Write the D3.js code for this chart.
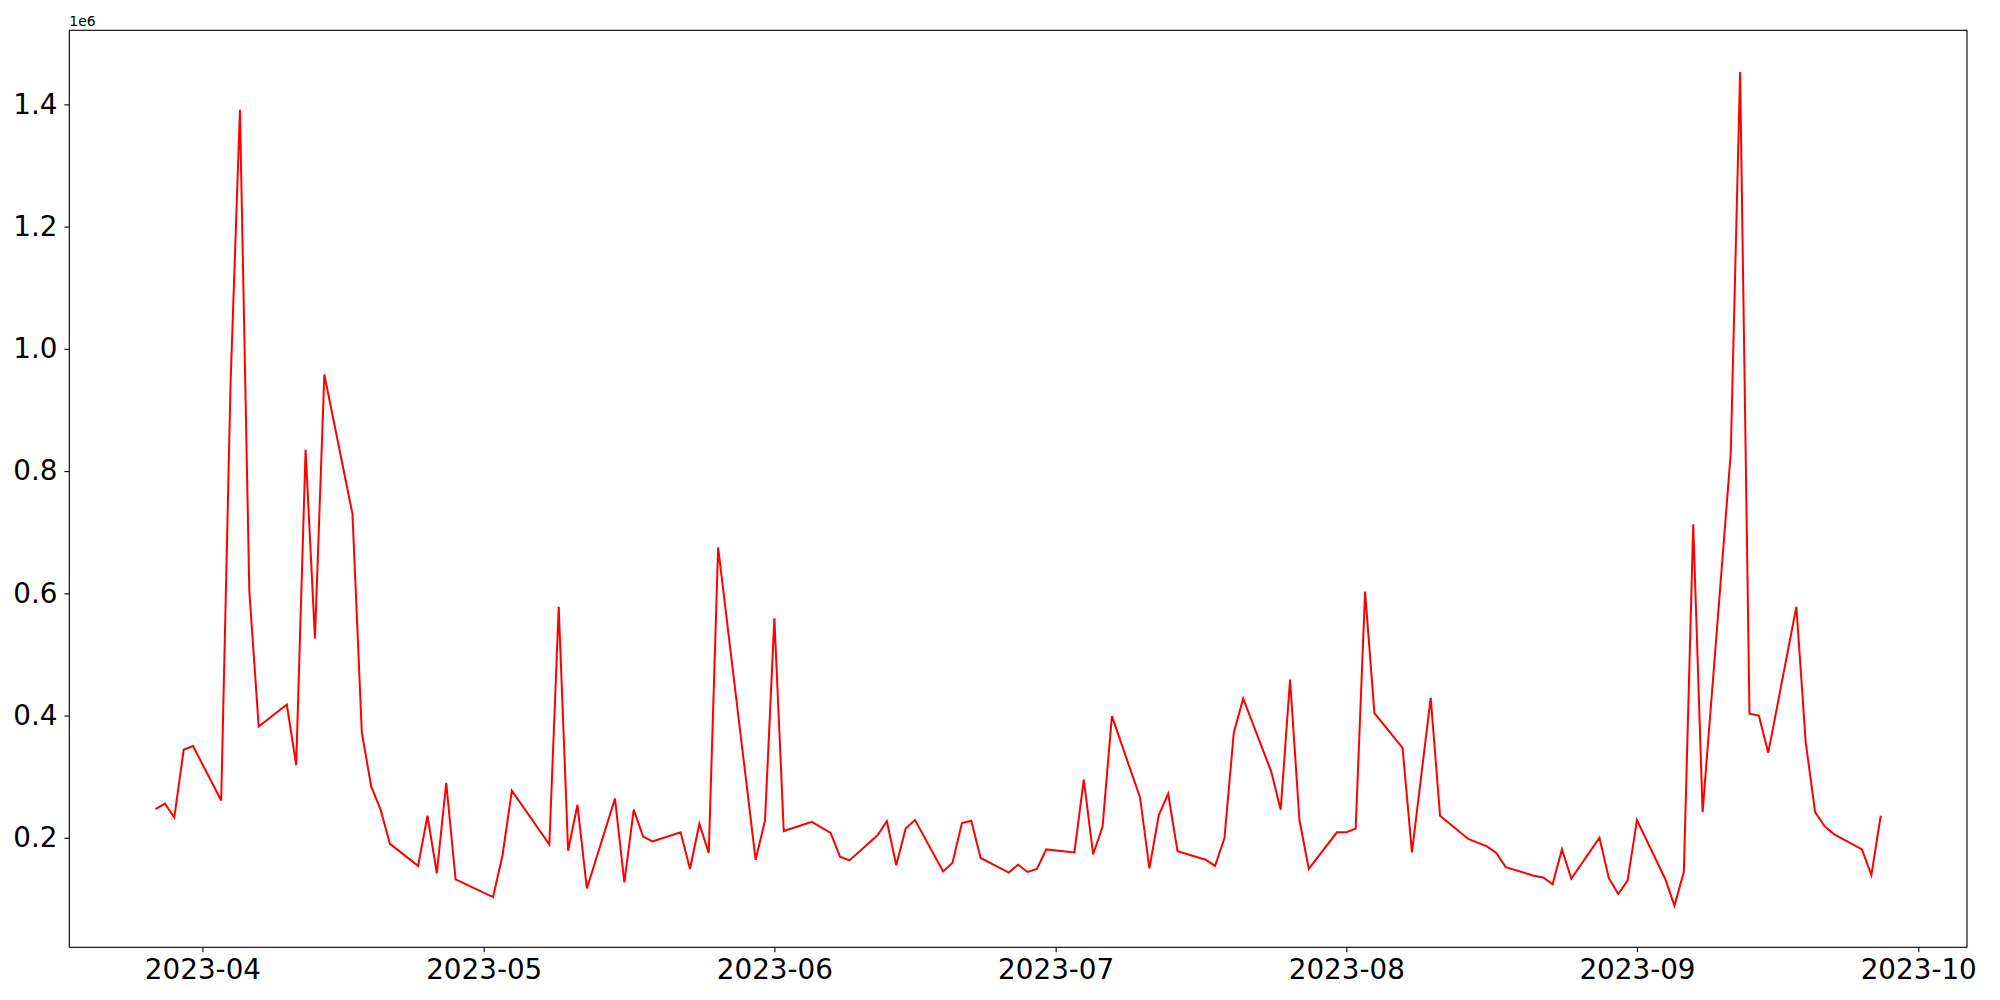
<!DOCTYPE html>
<html>
<head>
<meta charset="utf-8">
<script src="https://cdn.jsdelivr.net/npm/d3@7"></script>
<style>
  body{margin:0;background:#fff;}
  text{font-family:"DejaVu Sans",sans-serif;fill:#000;}
</style>
</head>
<body>
<svg id="main"></svg>
<script>
var WIDTH=2000,HEIGHT=1000;
var margin={left:69.3,right:33,top:30.3,bottom:52.7};

// dates of the series (trading days)
var dates=["2023-03-27","2023-03-28","2023-03-29","2023-03-30","2023-03-31",
  "2023-04-03","2023-04-04","2023-04-05","2023-04-06","2023-04-07",
  "2023-04-10","2023-04-11","2023-04-12","2023-04-13","2023-04-14",
  "2023-04-17","2023-04-18","2023-04-19","2023-04-20","2023-04-21",
  "2023-04-24","2023-04-25","2023-04-26","2023-04-27","2023-04-28",
  "2023-05-02","2023-05-03","2023-05-04",
  "2023-05-08","2023-05-09","2023-05-10","2023-05-11","2023-05-12",
  "2023-05-15","2023-05-16","2023-05-17","2023-05-18","2023-05-19",
  "2023-05-22","2023-05-23","2023-05-24","2023-05-25","2023-05-26",
  "2023-05-30","2023-05-31","2023-06-01","2023-06-02",
  "2023-06-05","2023-06-07","2023-06-08","2023-06-09",
  "2023-06-12","2023-06-13","2023-06-14","2023-06-15","2023-06-16",
  "2023-06-19","2023-06-20","2023-06-21","2023-06-22","2023-06-23",
  "2023-06-26","2023-06-27","2023-06-28","2023-06-29","2023-06-30",
  "2023-07-03","2023-07-04","2023-07-05","2023-07-06","2023-07-07",
  "2023-07-10","2023-07-11","2023-07-12","2023-07-13","2023-07-14",
  "2023-07-17","2023-07-18","2023-07-19","2023-07-20","2023-07-21",
  "2023-07-24","2023-07-25","2023-07-26","2023-07-27","2023-07-28",
  "2023-07-31","2023-08-01","2023-08-02","2023-08-03","2023-08-04",
  "2023-08-07","2023-08-08","2023-08-10","2023-08-11",
  "2023-08-14","2023-08-16","2023-08-17","2023-08-18",
  "2023-08-21","2023-08-22","2023-08-23","2023-08-24","2023-08-25",
  "2023-08-28","2023-08-29","2023-08-30","2023-08-31","2023-09-01",
  "2023-09-04","2023-09-05","2023-09-06","2023-09-07","2023-09-08",
  "2023-09-11","2023-09-12","2023-09-13","2023-09-14","2023-09-15",
  "2023-09-18","2023-09-19","2023-09-20","2023-09-21","2023-09-22",
  "2023-09-25","2023-09-26","2023-09-27"];

// values
var values=[247000,256000,233000,344000,350000,
  261000,944000,1391000,604000,382000,
  418000,319000,835000,526000,958000,
  730000,372000,284000,246000,190000,
  154000,236000,142000,290000,132000,
  103000,171000,277000,
  189000,578000,179000,254000,117000,
  264000,127000,246000,202000,194000,
  209000,149000,223000,175000,675000,
  164000,228000,559000,211000,
  226000,208000,169000,163000,
  204000,227000,155000,215000,229000,
  145000,159000,224000,228000,167000,
  143000,156000,144000,149000,181000,
  176000,295000,173000,218000,399000,
  266000,150000,237000,272000,178000,
  164000,154000,199000,372000,428000,
  308000,246000,459000,229000,149000,
  209000,209000,215000,603000,404000,
  347000,176000,429000,236000,
  198000,186000,175000,152000,
  138000,135000,124000,181000,133000,
  200000,134000,108000,130000,229000,
  133000,89000,144000,713000,242000,
  829000,1453000,403000,400000,339000,
  578000,356000,242000,219000,206000,
  181000,139000,236000];

var yTicks=[200000,400000,600000,800000,1000000,1200000,1400000];
var yTickLabels=["0.2","0.4","0.6","0.8","1.0","1.2","1.4"];
var xTicks=["2023-04-01","2023-05-01","2023-06-01","2023-07-01","2023-08-01","2023-09-01","2023-10-01"];
var xTickLabels=["2023-04","2023-05","2023-06","2023-07","2023-08","2023-09","2023-10"];

var parse=d3.utcParse("%Y-%m-%d");
var data=dates.map(function(d,i){return {date:parse(d),value:values[i]};});

var svg=d3.select("#main").attr("width",WIDTH).attr("height",HEIGHT);
var pw=WIDTH-margin.left-margin.right, ph=HEIGHT-margin.top-margin.bottom;
var g=svg.append("g").attr("transform","translate("+margin.left+","+margin.top+")");

// matplotlib-like 5% margins
var xe=d3.extent(data,function(d){return d.date;});
var xpad=(xe[1]-xe[0])*0.05;
var x=d3.scaleUtc().domain([new Date(+xe[0]-xpad),new Date(+xe[1]+xpad)]).range([0,pw]);
var ye=d3.extent(data,function(d){return d.value;});
var ypad=(ye[1]-ye[0])*0.05;
var y=d3.scaleLinear().domain([ye[0]-ypad,ye[1]+ypad]).range([ph,0]);

var line=d3.line().x(function(d){return x(d.date);}).y(function(d){return y(d.value);});
g.append("path").datum(data)
  .attr("d",line)
  .attr("fill","none")
  .attr("stroke","#ff0000")
  .attr("stroke-width",2)
  .attr("stroke-linejoin","miter");

// axes
var xAxis=d3.axisBottom(x).tickValues(xTicks.map(parse))
  .tickFormat(function(d,i){return xTickLabels[i];})
  .tickSize(4.9).tickPadding(6);
var gx=g.append("g").attr("transform","translate(0,"+ph+")").call(xAxis);
gx.select(".domain").remove();
gx.selectAll("text").attr("font-size",27.8).attr("font-family","DejaVu Sans").attr("dy","0.76em");
gx.selectAll("line").attr("stroke","#000").attr("stroke-width",1.1);

var yAxis=d3.axisLeft(y).tickValues(yTicks)
  .tickFormat(function(d,i){return yTickLabels[i];})
  .tickSize(4.9).tickPadding(7);
var gy=g.append("g").call(yAxis);
gy.select(".domain").remove();
gy.selectAll("text").attr("font-size",27.8).attr("font-family","DejaVu Sans");
gy.selectAll("line").attr("stroke","#000").attr("stroke-width",1.1);

// frame
g.append("rect").attr("x",0).attr("y",0).attr("width",pw).attr("height",ph)
  .attr("fill","none").attr("stroke","#000").attr("stroke-width",1.1);

// offset text
svg.append("text").attr("x",margin.left).attr("y",margin.top-4.5)
  .attr("font-size",13.9).text("1e6");
</script>
</body>
</html>
